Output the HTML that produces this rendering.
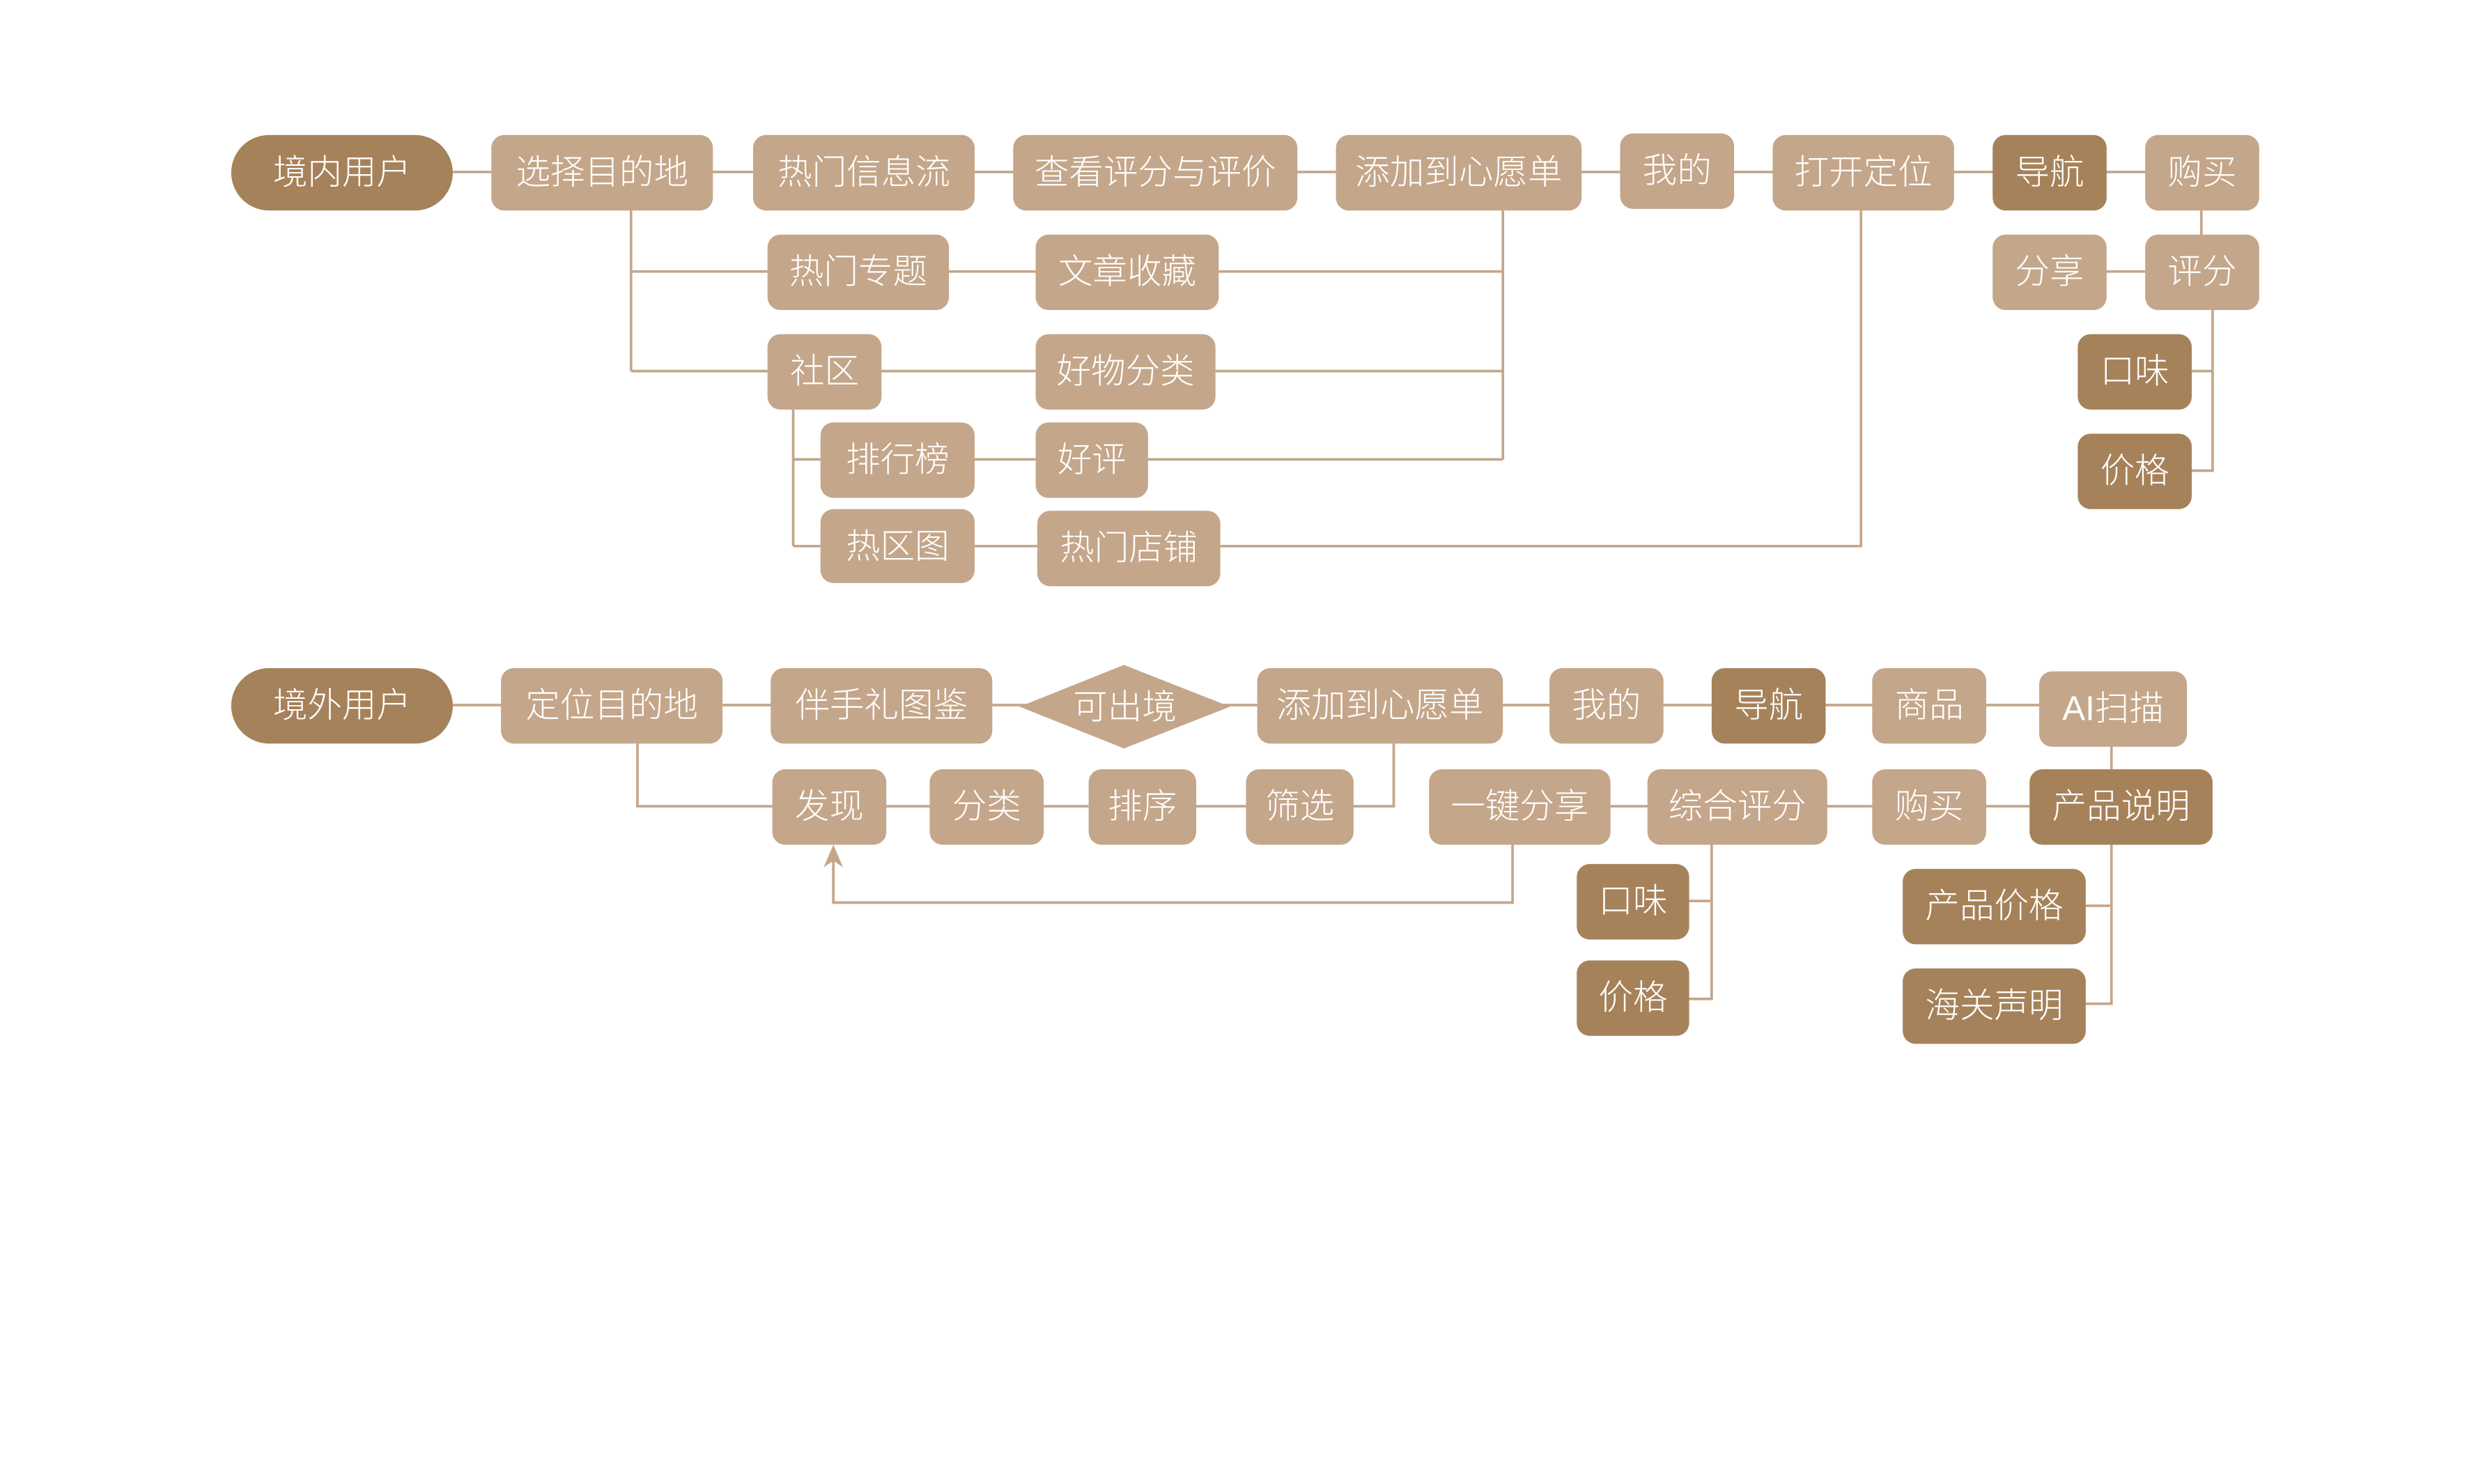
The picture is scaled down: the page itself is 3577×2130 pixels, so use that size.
<!DOCTYPE html>
<html><head><meta charset="utf-8"><style>
html,body{margin:0;padding:0;background:#fff;}
svg{display:block;}
text{font-family:"Liberation Sans","Noto Sans CJK SC",sans-serif;font-weight:300;font-size:21.5px;fill:#fff;text-anchor:middle;dominant-baseline:central;}
.l{fill:#c4a68a;}
.d{fill:#a6825a;}
.c{stroke:#c4a68a;stroke-width:1.6;fill:none;}
</style></head><body>
<svg width="3577" height="2130" viewBox="0 0 1552 924" xmlns="http://www.w3.org/2000/svg">
<g class="c">
<path d="M282 107H1336"/>
<path d="M393 131V231M393 169H478M393 231H478"/>
<path d="M591 169H645M549 231H645M607 286H645M607 340H646"/>
<path d="M494 255V340M494 286H511M494 340H511"/>
<path d="M759 169H936M757 231H936M715 286H936M936 131V286"/>
<path d="M760 340H1159V131"/>
<path d="M1371 131V146M1312 169H1336"/>
<path d="M1378 193V293H1365M1378 231H1365"/>
<path d="M282 439H1270"/>
<path d="M397 463V502H481"/>
<path d="M552 502H579M650 502H678M745 502H776M843 502H868V463"/>
<path d="M1003 502H1264"/>
<path d="M942 526V562H519V532"/>
<path d="M1066 526V622H1052M1066 561H1052"/>
<path d="M1315 465V479M1315 526V625H1299M1315 564H1299"/>
</g>
<path d="M519 526 L513 540 L519 536 L525 540 Z" fill="#c4a68a"/>
<rect class="d" x="144" y="84" width="138" height="47" rx="23.5"/><text x="213" y="107">境内用户</text>
<rect class="l" x="306" y="84" width="138" height="47" rx="8"/><text x="375" y="107">选择目的地</text>
<rect class="l" x="469" y="84" width="138" height="47" rx="8"/><text x="538" y="107">热门信息流</text>
<rect class="l" x="631" y="84" width="177" height="47" rx="8"/><text x="719.5" y="107">查看评分与评价</text>
<rect class="l" x="832" y="84" width="153" height="47" rx="8"/><text x="908.5" y="107">添加到心愿单</text>
<rect class="l" x="1009" y="83" width="71" height="47" rx="8"/><text x="1044.5" y="106">我的</text>
<rect class="l" x="1104" y="84" width="113" height="47" rx="8"/><text x="1160.5" y="107">打开定位</text>
<rect class="d" x="1241" y="84" width="71" height="47" rx="8"/><text x="1276.5" y="107">导航</text>
<rect class="l" x="1336" y="84" width="71" height="47" rx="8"/><text x="1371.5" y="107">购买</text>
<rect class="l" x="478" y="146" width="113" height="47" rx="8"/><text x="534.5" y="169">热门专题</text>
<rect class="l" x="645" y="146" width="114" height="47" rx="8"/><text x="702" y="169">文章收藏</text>
<rect class="l" x="1241" y="146" width="71" height="47" rx="8"/><text x="1276.5" y="169">分享</text>
<rect class="l" x="1336" y="146" width="71" height="47" rx="8"/><text x="1371.5" y="169">评分</text>
<rect class="l" x="478" y="208" width="71" height="47" rx="8"/><text x="513.5" y="231">社区</text>
<rect class="l" x="645" y="208" width="112" height="47" rx="8"/><text x="701" y="231">好物分类</text>
<rect class="d" x="1294" y="208" width="71" height="47" rx="8"/><text x="1329.5" y="231">口味</text>
<rect class="l" x="511" y="263" width="96" height="47" rx="8"/><text x="559" y="286">排行榜</text>
<rect class="l" x="645" y="263" width="70" height="47" rx="8"/><text x="680" y="286">好评</text>
<rect class="d" x="1294" y="270" width="71" height="47" rx="8"/><text x="1329.5" y="293">价格</text>
<rect class="l" x="511" y="317" width="96" height="46" rx="8"/><text x="559" y="340">热区图</text>
<rect class="l" x="646" y="318" width="114" height="47" rx="8"/><text x="703" y="341">热门店铺</text>
<rect class="d" x="144" y="416" width="138" height="47" rx="23.5"/><text x="213" y="439">境外用户</text>
<rect class="l" x="312" y="416" width="138" height="47" rx="8"/><text x="381" y="439">定位目的地</text>
<rect class="l" x="480" y="416" width="138" height="47" rx="8"/><text x="549" y="439">伴手礼图鉴</text>
<path class="l" d="M700 414 L766 440 L700 466 L635 440 Z"/><text x="700.5" y="440">可出境</text>
<rect class="l" x="783" y="416" width="153" height="47" rx="8"/><text x="859.5" y="439">添加到心愿单</text>
<rect class="l" x="965" y="416" width="71" height="47" rx="8"/><text x="1000.5" y="439">我的</text>
<rect class="d" x="1066" y="416" width="71" height="47" rx="8"/><text x="1101.5" y="439">导航</text>
<rect class="l" x="1166" y="416" width="71" height="47" rx="8"/><text x="1201.5" y="439">商品</text>
<rect class="l" x="1270" y="418" width="92" height="47" rx="8"/><text x="1316" y="441">AI扫描</text>
<rect class="l" x="481" y="479" width="71" height="47" rx="8"/><text x="516.5" y="502">发现</text>
<rect class="l" x="579" y="479" width="71" height="47" rx="8"/><text x="614.5" y="502">分类</text>
<rect class="l" x="678" y="479" width="67" height="47" rx="8"/><text x="711.5" y="502">排序</text>
<rect class="l" x="776" y="479" width="67" height="47" rx="8"/><text x="809.5" y="502">筛选</text>
<rect class="l" x="890" y="479" width="113" height="47" rx="8"/><text x="946.5" y="502">一键分享</text>
<rect class="l" x="1026" y="479" width="112" height="47" rx="8"/><text x="1082" y="502">综合评分</text>
<rect class="l" x="1166" y="479" width="71" height="47" rx="8"/><text x="1201.5" y="502">购买</text>
<rect class="d" x="1264" y="479" width="114" height="47" rx="8"/><text x="1321" y="502">产品说明</text>
<rect class="d" x="982" y="538" width="70" height="47" rx="8"/><text x="1017" y="561">口味</text>
<rect class="d" x="982" y="598" width="70" height="47" rx="8"/><text x="1017" y="621">价格</text>
<rect class="d" x="1185" y="541" width="114" height="47" rx="8"/><text x="1242" y="564">产品价格</text>
<rect class="d" x="1185" y="603" width="114" height="47" rx="8"/><text x="1242" y="626">海关声明</text>
</svg>
</body></html>
